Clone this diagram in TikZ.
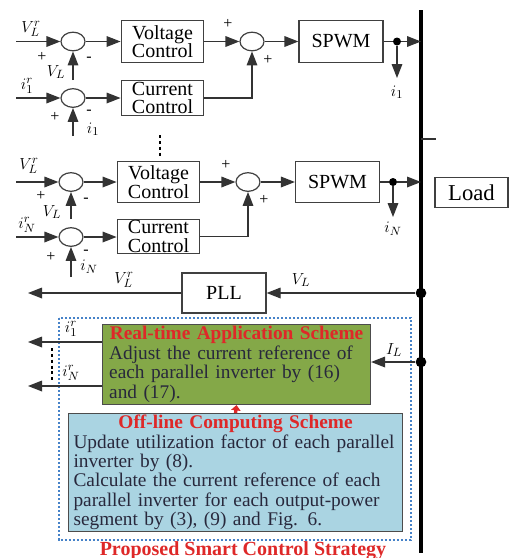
\documentclass[tikz,border=0pt]{standalone}
\usepackage{fontspec}
\setmainfont{Liberation Serif}
\usetikzlibrary{arrows.meta,shapes.geometric,calc}
\setlength{\parindent}{0pt}
\definecolor{greenfill}{RGB}{132,168,72}
\definecolor{bluefill}{RGB}{170,212,226}
\definecolor{redtext}{RGB}{222,40,40}
\definecolor{dotblue}{RGB}{70,130,200}
\definecolor{boxtext}{RGB}{40,40,60}
\begin{document}
\begin{tikzpicture}[x=0.75pt,y=-0.75pt,
  line/.style={draw=black!80, line width=0.9pt},
  arr/.style={line, -{Triangle[length=10.5pt,width=8pt]}},
  blk/.style={draw=black!75, line width=0.9pt, minimum width=62pt, font=\fontsize{15}{14}\selectfont, align=center, inner sep=1pt},
  sum/.style={draw=black!75, line width=0.9pt, ellipse, minimum width=18pt, minimum height=14pt, inner sep=0pt},
  lbl/.style={font=\fontsize{13}{13}\selectfont, inner sep=0pt},
  sgn/.style={font=\fontsize{12}{12}\selectfont, inner sep=0pt},
  dot/.style={circle, fill=black, inner sep=0pt, minimum size=6pt},
  bigdot/.style={circle, fill=black, inner sep=0pt, minimum size=8pt},
  vdots/.style={line width=2.2pt, dash pattern=on 2.2pt off 2.2pt}
]
\useasboundingbox (0,0) rectangle (510,558);

% bus
\coordinate (bt) at (421,10);
\coordinate (bb) at (421,553);
\draw[line width=3pt] (bt) -- (bb);
\coordinate (tk1) at (421,139);
\coordinate (tk2) at (436,139);
\draw[line] (tk1) -- (tk2);

% ---------- inverter 1 ----------
\node[sum] (s1) at (73,41.5) {};
\node[blk, minimum height=31pt] (vc1) at (162.5,41.5) {Voltage\\Control};
\node[sum] (s2) at (252,41.5) {};
\node[blk, minimum width=63pt, minimum height=31pt] (pw1) at (341,41.5) {SPWM};
\node[dot] (d1) at (397,41.5) {};
\coordinate (b1) at (421,41.5);
\coordinate (in1) at (16,41.5);
\coordinate (f1) at (73,80);
\coordinate (o1) at (397,78);
\draw[arr] (in1) -- (s1);
\draw[arr] (s1) -- (vc1);
\draw[arr] (vc1) -- (s2);
\draw[arr] (s2) -- (pw1);
\draw[line] (pw1) -- (d1);
\draw[arr] (d1) -- (b1);
\draw[arr] (d1) -- (o1);
\draw[arr] (f1) -- (s1.south);

\node[sum] (s3) at (73,98) {};
\node[blk, minimum height=26pt] (cc1) at (162.5,98) {Current\\Control};
\coordinate (in3) at (16,98);
\coordinate (f3) at (73,136);
\draw[arr] (in3) -- (s3);
\draw[arr] (s3) -- (cc1);
\draw[arr] (cc1.east) -| (s2.south);
\draw[arr] (f3) -- (s3.south);

\node[lbl] at (31,29) {$V_L^r$};
\node[sgn] at (42,57) {+};
\node[sgn] at (89,59) {-};
\node[lbl] at (56,72) {$V_L$};
\node[lbl] at (27,86) {$i_1^r$};
\node[sgn] at (55,117) {+};
\node[sgn] at (89,112) {-};
\node[lbl] at (93,129) {$i_1$};
\node[sgn] at (228,24) {+};
\node[sgn] at (268,60) {+};
\node[lbl] at (397,92) {$i_1$};

% vertical dots
\coordinate (vd1) at (160,135);
\coordinate (vd2) at (160,156);
\draw[vdots] (vd1) -- (vd2);

% ---------- inverter N ----------
\node[sum] (s4) at (71,182) {};
\node[blk, minimum height=31pt] (vc2) at (158.5,182) {Voltage\\Control};
\node[sum] (s5) at (248,182) {};
\node[blk, minimum width=63pt, minimum height=31pt] (pw2) at (337.5,182) {SPWM};
\node[dot] (d2) at (393,182) {};
\coordinate (b2) at (421,182);
\coordinate (in4) at (16,182);
\coordinate (f4) at (71,219);
\coordinate (o2) at (393,217);
\draw[arr] (in4) -- (s4);
\draw[arr] (s4) -- (vc2);
\draw[arr] (vc2) -- (s5);
\draw[arr] (s5) -- (pw2);
\draw[line] (pw2) -- (d2);
\draw[arr] (d2) -- (b2);
\draw[arr] (d2) -- (o2);
\draw[arr] (f4) -- (s4.south);

\node[sum] (s6) at (71,237) {};
\node[blk, minimum height=26pt] (cc2) at (158.5,236.5) {Current\\Control};
\coordinate (in6) at (16,237);
\coordinate (f6) at (71,277);
\draw[arr] (in6) -- (s6);
\draw[arr] (s6) -- (cc2.west |- s6);
\draw[arr] (cc2.east) -| (s5.south);
\draw[arr] (f6) -- (s6.south);

\node[lbl] at (29,166) {$V_L^r$};
\node[sgn] at (41,196) {+};
\node[sgn] at (86,200) {-};
\node[lbl] at (52,212) {$V_L$};
\node[lbl] at (27,225) {$i_N^r$};
\node[sgn] at (51,257) {+};
\node[sgn] at (86,252) {-};
\node[lbl] at (89,267) {$i_N$};
\node[sgn] at (226,165) {+};
\node[sgn] at (264,200) {+};
\node[lbl] at (393,229) {$i_N$};

% load
\node[draw=black!75, line width=0.9pt, minimum width=54.75pt, minimum height=23pt, inner sep=0pt, font=\fontsize{17}{17}\selectfont] (load) at (471.5,192.5) {Load};

% PLL
\node[blk, minimum width=63pt, minimum height=30pt] (pll) at (224,293) {PLL};
\node[bigdot] (bd1) at (421,293) {};
\coordinate (pout) at (28,293);
\draw[arr] (bd1) -- (pll);
\draw[arr] (pll) -- (pout);
\node[lbl] at (301,280) {$V_L$};
\node[lbl] at (124,280) {$V_L^r$};

% strategy frame
\coordinate (fr1) at (59,318);
\coordinate (fr2) at (411,540);
\draw[dotblue, line width=1pt, dash pattern=on 1.6pt off 1.4pt] (fr1) rectangle (fr2);

\node[draw=black!70, line width=0.8pt, fill=greenfill, anchor=north west, text width=191pt, inner xsep=5pt, inner ysep=1pt, minimum height=60pt,
  font=\fontsize{14.5}{14.6}\selectfont, text=boxtext] (rt) at (102,324)
 {{\centering\bfseries\color{redtext}Real-time Application Scheme\par}
  Adjust the current reference of\linebreak each parallel inverter by (16)\linebreak and (17).};

\node[draw=black!70, line width=0.8pt, fill=bluefill, anchor=north west, text width=243pt, inner xsep=3.75pt, inner ysep=1pt, minimum height=88.5pt,
  font=\fontsize{14.5}{14.6}\selectfont, text=boxtext] (ofl) at (68,413)
 {{\centering\bfseries\color{redtext}Off-line Computing Scheme\par}
  Update utilization factor of each parallel\linebreak inverter by (8).\par
  Calculate the current reference of each\linebreak parallel inverter for each output-power\linebreak segment by (3), (9) and Fig. 6.};

\draw[redtext, line width=2.5pt, -{Triangle[length=4pt,width=7pt]}] (ofl.north) -- (rt.south);

% I_L
\node[bigdot] (bd2) at (421,362) {};
\draw[arr] (bd2) -- (bd2 -| rt.east);
\node[lbl] at (394,350) {$I_L$};

% reference outputs
\coordinate (oi1) at (28,342);
\coordinate (oiN) at (28,386);
\draw[arr] (oi1 -| rt.west) -- (oi1);
\draw[arr] (oiN -| rt.west) -- (oiN);
\node[lbl] at (71,329) {$i_1^r$};
\node[lbl] at (71,373) {$i_N^r$};
\coordinate (vd3) at (52,348);
\coordinate (vd4) at (52,380);
\draw[vdots] (vd3) -- (vd4);

\node[anchor=base, inner sep=0pt, text=redtext, font=\fontsize{15}{15}\selectfont\bfseries] (cap) at (243,555.5) {Proposed Smart Control Strategy};
\end{tikzpicture}
\end{document}
